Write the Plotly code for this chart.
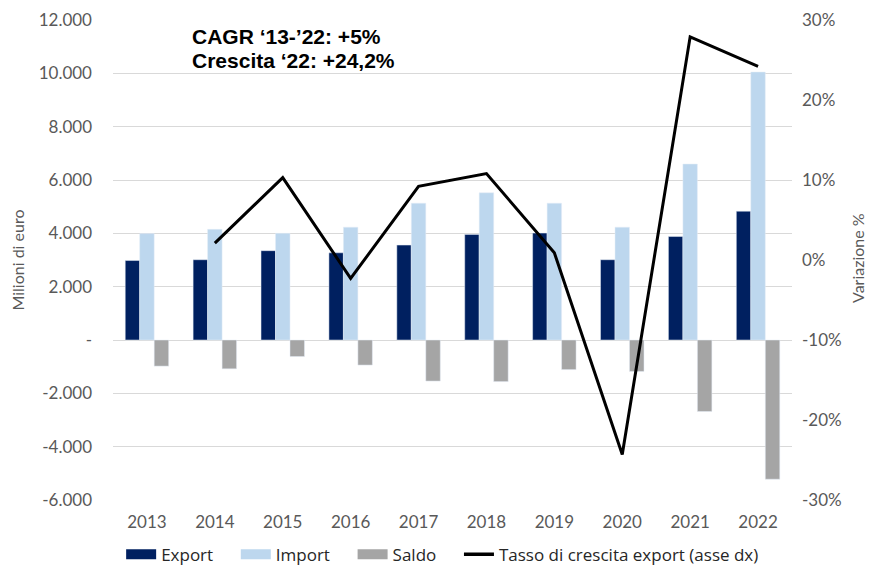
import plotly.graph_objects as go

years = ["2013", "2014", "2015", "2016", "2017", "2018", "2019", "2020", "2021", "2022"]
export_vals = [2980, 3010, 3350, 3270, 3560, 3960, 4010, 3010, 3880, 4830]
import_vals = [3990, 4150, 4000, 4230, 5130, 5520, 5130, 4230, 6600, 10050]
saldo_vals = [-980, -1080, -620, -940, -1540, -1560, -1110, -1180, -2680, -5220]
growth_vals = [None, 2.1, 10.3, -2.3, 9.2, 10.8, 0.9, -24.3, 27.9, 24.2]

left_ticks = [-6000, -4000, -2000, 0, 2000, 4000, 6000, 8000, 10000, 12000]
left_labels = ["-6.000", "-4.000", "-2.000", "-", "2.000", "4.000", "6.000", "8.000", "10.000", "12.000"]
right_ticks = [-30, -20, -10, 0, 10, 20, 30]
right_labels = ["-30%", "-20%", "-10%", "0%", "10%", "20%", "30%"]

series_names = ["Export", "Import", "Saldo"]
series_colors = ["#002060", "#BDD7EE", "#A5A5A5"]
line_name = "Tasso di crescita export (asse dx)"

NB = "\u00a0"
legend_pad = [4, 4, 4]

fig = go.Figure()
for name, vals, col in zip(series_names, [export_vals, import_vals, saldo_vals], series_colors):
    fig.add_trace(go.Bar(x=years, y=vals, name=name, marker_color=col, showlegend=False))
fig.add_trace(go.Scatter(x=years, y=growth_vals, name=line_name, mode="lines",
                         line=dict(color="black", width=3), yaxis="y2", showlegend=False))

# legend entries (wide swatches like the original)
for name, col, pad in zip(series_names, series_colors, legend_pad):
    fig.add_trace(go.Scatter(x=[None], y=[None], name=name + NB * pad, mode="lines",
                             line=dict(color=col, width=10)))
fig.add_trace(go.Scatter(x=[None], y=[None], name=line_name, mode="lines",
                         line=dict(color="black", width=3.5), yaxis="y2"))

tickfont = dict(family="Lato, Open Sans, sans-serif", size=17, color="#595959")
titlefont = dict(family="Lato, Open Sans, sans-serif", size=16, color="#595959")

# page has an 8px body margin, so the figure is sized to fit the window
W, H = 866, 559
ML, MR, MT, MB = 105, 82, 12, 67
PW, PH = W - ML - MR, H - MT - MB

fig.update_layout(
    width=W, height=H,
    margin=dict(l=ML, r=MR, t=MT, b=MB, autoexpand=False),
    plot_bgcolor="white", paper_bgcolor="white",
    barmode="group", bargap=0.36, bargroupgap=0,
    xaxis=dict(tickfont=tickfont, showgrid=False, showline=False, ticks="", ticklabelstandoff=10),
    yaxis=dict(range=[-6000, 12000], tickvals=left_ticks, ticktext=left_labels,
               tickfont=tickfont, showgrid=True, gridcolor="#D9D9D9", gridwidth=1,
               zeroline=False, showline=False, ticklabelstandoff=20, automargin=False,
               title=dict(text="Milioni di euro", font=titlefont, standoff=11)),
    yaxis2=dict(range=[-30, 30], tickvals=right_ticks, ticktext=right_labels,
                overlaying="y", side="right", tickfont=tickfont, showgrid=False,
                zeroline=False, showline=False, ticklabelstandoff=9, automargin=False),
    legend=dict(orientation="h", x=0.012, xanchor="left", yref="container", y=0.022,
                yanchor="middle",
                font=dict(family="Open Sans, Noto Sans, sans-serif", size=17, color="#262626"),
                traceorder="normal", itemclick=False),
    showlegend=True,
)

# right axis title
fig.add_annotation(
    xref="paper", yref="paper", x=(849 - ML) / PW, y=(MT + PH - 250) / PH,
    xanchor="center", yanchor="middle", textangle=-90, showarrow=False,
    text="Variazione %", font=titlefont,
)

fig.add_annotation(
    xref="paper", yref="paper", x=(182 - ML) / PW, y=(MT + PH - 29) / PH, xanchor="left", yanchor="middle",
    text="<b>CAGR ‘13-’22: +5%</b>", showarrow=False, align="left",
    font=dict(family="Liberation Sans, Arial, sans-serif", size=21, color="black"),
)
fig.add_annotation(
    xref="paper", yref="paper", x=(182 - ML) / PW, y=(MT + PH - 52) / PH, xanchor="left", yanchor="middle",
    text="<b>Crescita ‘22: +24,2%</b>", showarrow=False, align="left",
    font=dict(family="Liberation Sans, Arial, sans-serif", size=21, color="black"),
)

fig.write_html("out.html")
